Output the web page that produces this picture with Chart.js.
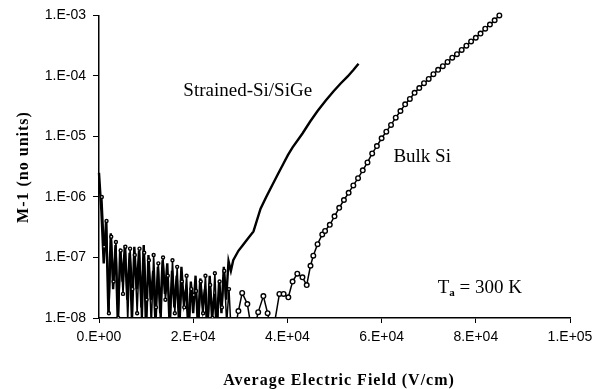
<!DOCTYPE html>
<html>
<head>
<meta charset="utf-8">
<script src="https://cdn.jsdelivr.net/npm/chart.js@4"></script>
<style>
  body { margin: 0; background: #fff; }
  #wrap { width: 608px; height: 389px; }
</style>
</head>
<body>
<div id="wrap"><canvas id="chart" width="608" height="389"></canvas></div>
<script>
// Strained-Si/SiGe : field (V/cm) and M-1
const strainedX = [0, 500, 1000, 1500, 2000, 2500, 3000, 3500, 4000, 4500, 5000, 5500, 6000, 6500, 7000, 7500,
  8000, 8500, 9000, 9500, 10000, 10500, 11000, 11500, 12000, 12500, 13000, 13500, 14000, 14500, 15000, 15500,
  16000, 16500, 17000, 17500, 18000, 18500, 19000, 19500, 20000, 20500, 21000, 21500, 22000, 22500, 23000,
  23500, 24000, 24500, 25000, 25500, 26000, 26500, 27000, 27500, 28000, 28500, 29600, 30400, 31500, 32800,
  34300, 35500, 36800, 38000, 39200, 40100, 41100, 43200, 44800, 46400, 48100, 49800, 51300, 52800, 54000, 55100];
const strainedY = [2.5e-6, 6e-7, 8e-8, 4e-7, 1.2e-8, 2.5e-7, 3e-8, 1.6e-7, 8e-9, 1.4e-7, 4e-8, 1.6e-7, 2e-8, 1.2e-7, 9e-9, 1.5e-7,
  3e-8, 1.3e-7, 1.5e-8, 1.6e-7, 6e-9, 1.1e-7, 2e-8, 6e-8, 8e-9, 7e-8, 1.2e-8, 9e-8, 2.5e-8, 8e-8, 7e-9, 6e-8,
  1.5e-8, 5e-8, 8e-9, 7e-8, 1.8e-8, 3e-8, 6e-9, 4e-8, 1.2e-8, 5e-8, 7e-9, 4.5e-8, 1.5e-8, 3e-8, 6e-9,
  5e-8, 1e-8, 2.5e-8, 7e-9, 4e-8, 1.2e-8, 7e-8, 2e-8, 8.7e-8, 6e-8, 9e-8, 1.29e-7, 1.55e-7, 2.0e-7, 2.7e-7,
  6.4e-7, 1.0e-6, 1.58e-6, 2.4e-6, 3.6e-6, 4.9e-6, 6.6e-6, 1.12e-5, 1.75e-5, 2.63e-5, 3.9e-5, 5.57e-5, 7.5e-5, 9.8e-5, 1.25e-4, 1.59e-4];

// Bulk Si : field (V/cm) and M-1
const bulkX = [600, 1100, 1600, 2100, 2600, 3100, 3600, 4100, 4600, 5100, 5600, 6100, 6600, 7100, 7600, 8100,
  8600, 9100, 9600, 10100, 10600, 11100, 11600, 12100, 12600, 13100, 13600, 14100, 14600, 15100, 15600, 16100,
  16600, 17100, 17600, 18100, 18600, 19100, 19600, 20100, 20600, 21100, 21600, 22100, 22600, 23100, 23600, 24100,
  24600, 25100, 25600, 26100, 26600, 27100, 27600, 28100, 28600,
  29600, 30400, 31500, 32600, 33800, 34900, 35800, 36800, 38300, 39200, 40200, 41100,
  42100, 43200, 44100, 44900, 45500, 46400, 47400, 48000, 49000, 50000, 51000, 52000, 53000, 54000, 55000, 56000,
  57000, 58000, 59000, 60000, 61000, 62000, 63000, 64000, 65000, 66000, 67000, 68000, 69000, 70000, 71000, 72000,
  73000, 74000, 75000, 76000, 77000, 78000, 79000, 80000, 81000, 82000, 83000, 84000, 85000];
const bulkY = [1.0e-6, 1.5e-7, 4e-7, 1.2e-8, 2.2e-7, 4e-8, 1.8e-7, 1e-8, 1.3e-7, 2.5e-8, 1.5e-7, 9e-9, 1.4e-7, 3e-8, 1.1e-7, 1.2e-8,
  1.4e-7, 6e-9, 1.2e-7, 2e-8, 9e-8, 7e-9, 1.1e-7, 1.5e-8, 8e-8, 6e-9, 1e-7, 2e-8, 5e-8, 8e-9, 9e-8, 1.2e-8,
  7e-8, 6e-9, 4e-8, 1.5e-8, 5e-8, 7e-9, 3e-8, 2.4e-8, 2.8e-8, 6e-9, 4e-8, 1.2e-8, 5e-8, 7e-9, 3.5e-8, 1e-8,
  5.5e-8, 6e-9, 4e-8, 1.5e-8, 6e-8, 8e-9, 3e-8, 5e-9, 5e-9,
  1.3e-8, 2.6e-8, 1.7e-8, 5e-9, 1.25e-8, 2.3e-8, 1.2e-8, 5e-9, 2.5e-8, 2.5e-8, 2.2e-8, 4.0e-8,
  5.4e-8, 4.7e-8, 3.5e-8, 7.3e-8, 1.07e-7, 1.66e-7, 2.4e-7, 2.75e-7, 3.47e-7, 4.79e-7, 6.61e-7, 8.91e-7, 1.17e-6, 1.55e-6, 2.04e-6, 2.75e-6,
  3.72e-6, 5.25e-6, 6.92e-6, 9.33e-6, 1.2e-5, 1.55e-5, 2.04e-5, 2.63e-5, 3.39e-5, 4.17e-5, 5.25e-5, 6.31e-5, 7.59e-5, 8.91e-5, 1.07e-4, 1.26e-4,
  1.45e-4, 1.7e-4, 2.0e-4, 2.29e-4, 2.69e-4, 3.16e-4, 3.72e-4, 4.27e-4, 5.01e-4, 6.03e-4, 7.08e-4, 8.32e-4, 1.0e-3];

const xTicks = [0, 20000, 40000, 60000, 80000, 100000];
const yTicks = [1e-8, 1e-7, 1e-6, 1e-5, 1e-4, 1e-3];

const seriesNames = ['Strained-Si/SiGe', 'Bulk Si'];
const xTitle = 'Average Electric Field (V/cm)';
const yTitle = 'M-1 (no units)';

function pts(xs, ys) {
  return xs.map((x, i) => ({ x: x, y: ys[i] }));
}

function sci(v) {
  if (v === 0) return '0.E+00';
  const e = Math.floor(Math.log10(v) + 1e-9);
  const m = Math.round(v / Math.pow(10, e));
  const a = Math.abs(e);
  return m + '.E' + (e < 0 ? '-' : '+') + (a < 10 ? '0' + a : a);
}

// free text in the plot, drawn in data units
const notes = [
  { text: 'Strained-Si/SiGe', x: 17900, y: 5.6e-5 },
  { text: 'Bulk Si', x: 62500, y: 4.5e-6 }
];

const serif = '"Liberation Serif", "Times New Roman", serif';

const textPlugin = {
  id: 'texts',
  afterDraw(chart) {
    const ctx = chart.ctx;
    const xs = chart.scales.x, ys = chart.scales.y;
    ctx.save();
    ctx.fillStyle = '#000';
    ctx.font = '19px ' + serif;
    ctx.textBaseline = 'middle';
    ctx.textAlign = 'left';
    notes.forEach(n => {
      ctx.fillText(n.text, xs.getPixelForValue(n.x), ys.getPixelForValue(n.y));
    });
    // T_a = 300 K
    let tx = xs.getPixelForValue(71900), ty = ys.getPixelForValue(3.1e-8);
    ctx.fillText('T', tx, ty);
    tx += ctx.measureText('T').width;
    ctx.font = 'bold 11px ' + serif;
    ctx.fillText('a', tx, ty + 5);
    tx += ctx.measureText('a').width;
    ctx.font = '19px ' + serif;
    ctx.fillText(' = 300 K', tx, ty);

    // axis titles
    ctx.font = 'bold 16px ' + serif;
    if ('letterSpacing' in ctx) ctx.letterSpacing = '1px';
    ctx.textAlign = 'center';
    ctx.fillText(xTitle, 339, 381);
    ctx.translate(24, 167);
    ctx.rotate(-Math.PI / 2);
    ctx.fillText(yTitle, 0, 0);
    ctx.restore();
  }
};

const tickFont = { family: '"Liberation Sans", Arial, sans-serif', size: 14 };

new Chart(document.getElementById('chart').getContext('2d'), {
  type: 'line',
  data: {
    datasets: [{
      label: seriesNames[1],
      data: pts(bulkX, bulkY),
      borderColor: '#000',
      borderWidth: 1.5,
      // markers are mostly buried in the noisy low-field part
      pointRadius: c => (c.raw && c.raw.x < 29000 ? 1.5 : 2.3),
      pointBorderWidth: 1.4,
      pointBorderColor: '#000',
      pointBackgroundColor: '#fff',
      tension: 0,
      clip: { left: 5, top: 5, right: 5, bottom: 0 }
    }, {
      label: seriesNames[0],
      data: pts(strainedX, strainedY),
      borderColor: '#000',
      borderWidth: 2.4,
      pointRadius: 0,
      tension: 0,
      clip: { left: 5, top: 5, right: 5, bottom: 0 }
    }]
  },
  options: {
    responsive: false,
    animation: false,
    layout: { padding: { top: 11, right: 38, left: 0, bottom: 0 } },
    plugins: { legend: { display: false }, tooltip: { enabled: false } },
    scales: {
      x: {
        type: 'linear',
        min: 0,
        max: 100000,
        afterBuildTicks: s => { s.ticks = xTicks.map(v => ({ value: v })); },
        afterFit: s => { s.height = 71; },
        grid: { drawOnChartArea: false, drawTicks: true, tickLength: 5, color: '#000' },
        border: { display: true, color: '#000', width: 1.5 },
        ticks: { callback: v => sci(v), color: '#000', padding: 6, maxRotation: 0, font: tickFont }
      },
      y: {
        type: 'logarithmic',
        min: 1e-8,
        max: 1e-3,
        afterBuildTicks: s => { s.ticks = yTicks.map(v => ({ value: v })); },
        afterFit: s => { s.width = 99; },
        grid: { drawOnChartArea: false, drawTicks: true, tickLength: 6, color: '#000' },
        border: { display: true, color: '#000', width: 1.5 },
        ticks: { callback: v => sci(v), color: '#000', padding: 7, font: tickFont }
      }
    }
  },
  plugins: [textPlugin]
});
</script>
</body>
</html>
